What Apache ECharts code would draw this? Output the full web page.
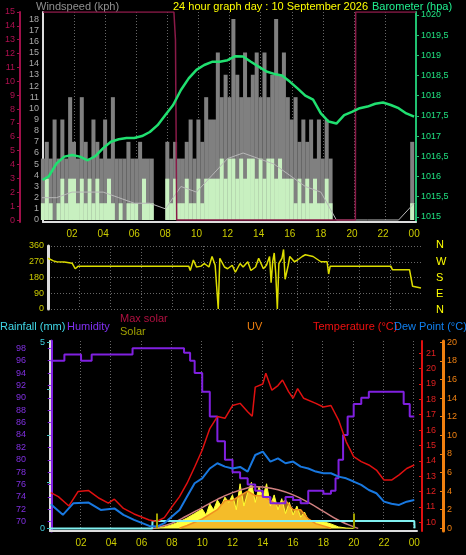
<!DOCTYPE html>
<html><head><meta charset="utf-8">
<script src="https://cdn.jsdelivr.net/npm/echarts@6/dist/echarts.min.js"></script>
<style>html,body{margin:0;padding:0;background:#000}#c{width:466px;height:555px}</style>
</head><body><div id="c"></div>
<script>
// ---- data ----
const hourTicks = [2,4,6,8,10,12,14,16,18,20,22,24];
const baroTimes = [0.1,0.5,1,1.5,2,2.5,3,3.5,4,4.5,5,5.5,6,6.5,7,7.5,8,8.5,9,9.5,10,10.5,11,11.5,12,12.5,13,13.5,14,14.5,15,15.5,16,16.5,17,17.5,18,18.5,19,19.5,20,20.5,21,21.5,22,22.5,23,23.5,24];
const baroValues = [1015.91,1016.0,1016.32,1016.49,1016.53,1016.49,1016.4,1016.5,1016.7,1016.86,1016.92,1016.95,1016.95,1017.0,1017.1,1017.27,1017.52,1017.77,1018.14,1018.43,1018.64,1018.76,1018.84,1018.84,1018.88,1018.98,1018.97,1018.84,1018.72,1018.6,1018.54,1018.5,1018.35,1018.18,1018.0,1017.9,1017.56,1017.36,1017.31,1017.52,1017.6,1017.69,1017.73,1017.8,1017.83,1017.77,1017.69,1017.56,1017.48];
const sunTimes = [0.13,8.55,8.65,8.73,20.22,20.24,24.12];
const sunValues = [15,15,13,0,0,15,15];
const windGust = [5.5,7,5.5,9, 5.5,9,5.5,11, 7,5.5,11,7, 5.5,9,7,5.5, 9,5.5,11,5.5, 5.5,5.5,7,5.5, 5.5,7,5.5,5.5, 5.5,0,0,0,
  7,5.5,7,5.5, 5.5,7,9,5.5, 9,7,11,9, 9,15,11,13, 11,18,13,11, 15,11,13,15, 11,15,11,13, 18,13,15,11, 9,11,7,9, 7,9,5.5,9, 5.5,9,5.5,0,
  0,0,0,0, 0,0,0,0, 0,0,0,0, 0,0,0,0, 0,0,0,7];
const windAvg = [1.5,3.7,1.5,0, 1.5,3.7,1.5,3.7, 3.7,1.5,3.7,1.5, 3.7,1.5,3.7,1.5, 1.5,3.7,1.5,0, 1.5,0,1.5,1.5, 1.5,0,3.7,1.5, 1.5,0,0,0,
  3.7,1.5,3.7,1.5, 1.5,3.7,1.5,1.5, 3.7,1.5,3.7,3.7, 3.7,3.7,5.5,3.7, 5.5,5.5,3.7,5.5, 3.7,5.5,5.5,3.7, 5.5,3.7,5.5,5.5, 3.7,5.5,3.7,3.7, 3.7,1.5,3.7,1.5, 3.7,1.5,3.7,1.5, 1.5,3.7,1.5,0,
  0,0,0,0, 0,0,0,0, 0,0,0,0, 0,0,0,0, 0,0,0,1.5];
const windMeanLine = [2,2,2.5,2.5,2.5,2,1.5,1.5,1,3,2.5,4,5.5,6,5.5,5,4,3,2.5,0,0,0,0,0,1.5];
const dirTimes = [0.45,0.8,1,1.5,2,2.2,2.4,2.6,3.5,9.5,9.6,9.8,10,10.3,10.5,10.8,11,11.2,11.4,11.5,11.8,12,12.3,12.5,12.8,13,13.3,13.5,13.8,14,14.3,14.5,14.7,14.8,14.9,15,15.1,15.2,15.3,15.5,15.6,15.7,15.9,16,16.3,16.5,16.8,17,17.5,18,18.4,18.5,18.6,19,22.5,22.6,23.7,23.9,24.44];
const dirValues = [290,275,270,268,262,230,245,245,245,245,220,280,240,245,260,240,300,250,0,290,240,230,250,210,260,240,270,220,240,290,230,250,300,150,270,320,200,0,260,290,340,170,250,300,270,280,300,310,300,270,270,200,245,245,245,225,225,130,120];
const humTimes = [0,0.9,2,2.7,5.4,8.5,8.8,9.2,9.5,10,10.5,11,11.5,12,12.5,13,13.5,14,14.5,15,15.5,16,16.5,17,17.5,18,18.5,18.8,19,19.3,19.6,20,20.5,21,22,23,23.3,23.7,24];
const humValues = [96,97,96,97,98,98,97.3,96,94,91,87,83,80,78,77,76,75,74,73,73,74,73.5,73,75,75,74.5,75,77,80,84,87,89,90,91,91,91,89,87,87];
const tempTimes = [0,0.5,1.2,1.8,2.5,3.2,3.8,4.2,4.8,5.5,6.5,7,7.5,8,8.5,9,9.5,10,10.5,11,11.5,12,12.5,13,13.3,13.5,14,14.2,14.6,15,15.3,15.7,16,16.3,16.7,17.5,18,18.5,19,19.5,20,20.5,21,21.5,22,22.5,23,23.5,24];
const tempValues = [11.93,11.67,11.06,12.0,12.06,11.56,11.24,11.5,10.9,10.54,10.15,10.05,10.3,11.0,11.67,12.54,13.6,14.7,16.1,16.88,16.77,17.6,17.74,17.2,16.9,18.8,19.0,19.7,18.6,18.9,19.26,18.5,18.07,18.7,18.07,17.74,17.5,17.6,16.65,15.25,14.27,13.95,13.73,13.4,12.75,12.75,13.08,13.5,13.73];
const dewTimes = [0,0.8,1.5,2.5,3.3,4.2,4.8,5.5,6.5,7,7.5,8,8.5,9,9.5,10,10.5,11,11.5,12,12.5,13,13.5,14,14.5,15,15.5,16,16.5,17,17.5,18,18.5,19,19.5,20,20.5,21,21.5,22,22.5,23,23.5,24];
const dewValues = [11.17,10.48,11.24,11.28,10.8,10.9,10.48,10.15,9.76,9.72,9.94,10.37,10.8,11.67,12.54,12.86,13.5,13.84,13.62,13.5,13.6,13.3,14.38,14.6,13.95,14.16,13.84,13.95,13.62,13.5,13.3,13.19,13.19,12.97,12.86,12.65,12.43,12.1,11.89,11.34,11.2,11.13,11.34,11.45];
const rainTimes = [-0.05,6.7,6.72,24.0,24.02];
const rainValues = [0,0,0.2,0.2,0];
const maxSolarTimes = [6.7,7,8,9,10,11,12,13,13.5,14,15,16,17,18,19,20,20.3];
const maxSolarValues = [0,10,70,170,280,390,480,545,560,555,520,450,350,230,110,20,0];
const solarTimes = [6.9,7,7.5,8,8.5,9,9.5,10,10.25,10.5,10.75,11,11.25,11.5,11.75,12,12.25,12.5,12.75,13,13.25,13.5,13.75,14,14.25,14.5,14.75,15,15.25,15.5,15.75,16,16.25,16.5,16.75,17,17.5,18,18.5,19,19.5,20];
const solarValues = [0,5,20,50,90,140,200,260,180,330,250,380,300,420,350,450,250,600,300,480,620,350,560,420,600,300,450,250,400,200,350,180,300,150,220,110,100,90,60,20,5,0];
const uvTimes = [8.5,9,10,11,11.5,12,12.5,13,13.5,14,14.5,15,15.5,16,16.5,17,17.5,18.5];
const uvValues = [0,0.3,1,2,3,3,3.5,4,3.5,3.5,3,2.5,3,2,2,1,0.5,0];

// ---- build ----
const zip = (t, v) => t.map((x, i) => [x, v[i]]);
const gustData = windGust.map((v, i) => [i * 0.25 + 0.125, v]);
const avgData = windAvg.map((v, i) => [i * 0.25 + 0.125, v]);
const meanLineData = windMeanLine.map((v, i) => [i, v]);
const hh = v => { const h = Math.round(v) % 24; return (h < 10 ? '0' : '') + h; };
const font = 'Liberation Sans';
const TF = '11px Liberation Sans';
const dotted = c => ({show: true, lineStyle: {color: c || '#555', type: [1, 2], width: 1}});
const ch = echarts.init(document.getElementById('c'), null, {renderer: 'canvas'});
const timeX = (gi, min, max, showLbl, lblColor) => ({
  type: 'value', gridIndex: gi, min, max,
  axisLine: {show: true, onZero: false, lineStyle: {color: '#ddd', width: 2}},
  axisTick: {show: false},
  splitLine: Object.assign(dotted('#666'), {showMinLine: false, showMaxLine: false}),
  axisLabel: {show: showLbl, customValues: hourTicks, formatter: hh, color: lblColor || '#cccc00', fontSize: 10, fontFamily: font, margin: 7},
  interval: 2
});
const lbl = (c) => ({color: c, fontSize: 9, fontFamily: font});
ch.setOption({
  backgroundColor: '#000',
  animation: false,
  grid: [
    {left: 43, right: 50, top: 12, height: 210},
    {left: 48, right: 45, top: 246, height: 63},
    {left: 50, right: 49, top: 341, height: 190}
  ],
  xAxis: [
    timeX(0, 0.13, 24.12, true),
    Object.assign(timeX(1, 0.45, 24.44, false), {axisLine: {show: false}}),
    timeX(2, -0.05, 24.18, true)
  ],
  yAxis: [
    {type: 'value', gridIndex: 0, min: -0.18, max: 18.63, interval: 1,
      axisLine: {show: true, lineStyle: {color: '#ddd', width: 2}}, axisTick: {show: false},
      axisLabel: Object.assign(lbl('#aaa'), {customValues: [0,1,2,3,4,5,6,7,8,9,10,11,12,13,14,15,16,17,18], margin: 4}),
      splitLine: {show: false}},
    {type: 'value', gridIndex: 0, min: -0.14, max: 15, position: 'left', offset: 23,
      axisLine: {show: true, lineStyle: {color: '#a0104a', width: 2}}, axisTick: {show: true, length: 3, customValues: [0,1,2,3,4,5,6,7,8,9,10,11,12,13,14,15]},
      axisLabel: Object.assign(lbl('#b01050'), {customValues: [0,1,2,3,4,5,6,7,8,9,10,11,12,13,14,15], margin: 5}),
      splitLine: {show: false}},
    {type: 'value', gridIndex: 0, min: 1014.87, max: 1020.074, position: 'right',
      axisLine: {show: true, lineStyle: {color: '#20c070', width: 2}}, axisTick: {show: true, length: 3, customValues: [1015,1015.5,1016,1016.5,1017,1017.5,1018,1018.5,1019,1019.5,1020]},
      axisLabel: Object.assign(lbl('#20e080'), {customValues: [1015,1015.5,1016,1016.5,1017,1017.5,1018,1018.5,1019,1019.5,1020], formatter: v => String(v).replace('.', ','), margin: 5}),
      splitLine: {show: false}},
    {type: 'value', gridIndex: 0, min: -0.18, max: 18.63, show: false, splitLine: dotted('#555')},
    {type: 'value', gridIndex: 1, min: 0, max: 360, interval: 90,
      axisLine: {show: true, lineStyle: {color: '#ddd', width: 3}}, axisTick: {show: false},
      axisLabel: Object.assign(lbl('#cccc00'), {margin: 4}),
      splitLine: dotted('#666')},
    {type: 'value', gridIndex: 2, min: 68.5, max: 99.18, position: 'left', offset: 20,
      axisLine: {show: true, lineStyle: {color: '#8020e0', width: 3}}, axisTick: {show: true, length: 3, customValues: [70,72,74,76,78,80,82,84,86,88,90,92,94,96,98]},
      axisLabel: Object.assign(lbl('#8030e0'), {customValues: [70,72,74,76,78,80,82,84,86,88,90,92,94,96,98], margin: 4}),
      splitLine: {show: false}},
    {type: 'value', gridIndex: 2, min: -0.07, max: 5.035, position: 'left',
      axisLine: {show: true, lineStyle: {color: '#ddd', width: 2}}, axisTick: {show: true, length: 3, lineStyle: {color: '#40c0c0'}, customValues: [0,1.25,2.5,3.75,5]},
      axisLabel: Object.assign(lbl('#40d0e0'), {customValues: [0,5], margin: 5}),
      splitLine: {show: false}},
    {type: 'value', gridIndex: 2, min: 9.43, max: 21.8, position: 'right', offset: 5,
      axisLine: {show: true, lineStyle: {color: '#e01010', width: 2}}, axisTick: {show: true, inside: true, length: 3, customValues: [10,11,12,13,14,15,16,17,18,19,20,21]},
      axisLabel: Object.assign(lbl('#e02020'), {customValues: [10,11,12,13,14,15,16,17,18,19,20,21], margin: 4}),
      splitLine: {show: false}},
    {type: 'value', gridIndex: 2, min: -0.29, max: 20.14, position: 'right', offset: 26,
      axisLine: {show: true, lineStyle: {color: '#f08010', width: 3}}, axisTick: {show: true, inside: true, length: 3, customValues: [0,2,4,6,8,10,12,14,16,18,20]},
      axisLabel: Object.assign(lbl('#f08010'), {customValues: [0,2,4,6,8,10,12,14,16,18,20], margin: 4}),
      splitLine: {show: false}},
    {type: 'value', gridIndex: 2, min: -35, max: 2518, show: false},
    {type: 'value', gridIndex: 2, min: 0, max: 10, interval: 1, show: false, splitLine: dotted('#666')}
  ],
  graphic: [
    {type: 'text', left: 36, top: 1, style: {text: 'Windspeed (kph)', fill: '#909090', font: TF}},
    {type: 'text', left: 173, top: 1, style: {text: '24 hour graph day : 10 September 2026', fill: '#ffff00', font: TF}},
    {type: 'text', left: 372, top: 1, style: {text: 'Barometer (hpa)', fill: '#20f090', font: TF}},
    {type: 'text', left: 436, top: 239, style: {text: 'N', fill: '#ffff00', font: TF}},
    {type: 'text', left: 436, top: 256, style: {text: 'W', fill: '#ffff00', font: TF}},
    {type: 'text', left: 436, top: 272, style: {text: 'S', fill: '#ffff00', font: TF}},
    {type: 'text', left: 436, top: 288, style: {text: 'E', fill: '#ffff00', font: TF}},
    {type: 'text', left: 436, top: 304, style: {text: 'N', fill: '#ffff00', font: TF}},
    {type: 'text', left: 0, top: 321, style: {text: 'Rainfall (mm)', fill: '#40d8e8', font: TF}},
    {type: 'text', left: 67, top: 321, style: {text: 'Humidity', fill: '#8030f0', font: TF}},
    {type: 'text', left: 120, top: 313, style: {text: 'Max solar', fill: '#b01040', font: TF}},
    {type: 'text', left: 120, top: 326, style: {text: 'Solar', fill: '#a0a000', font: TF}},
    {type: 'text', left: 247, top: 321, style: {text: 'UV', fill: '#f08010', font: TF}},
    {type: 'text', left: 313, top: 321, style: {text: 'Temperature (°C)', fill: '#f01010', font: TF}},
    {type: 'text', left: 394, top: 321, style: {text: 'Dew Point (°C)', fill: '#1080f0', font: TF}}
  ],
  series: [
    {type: 'bar', xAxisIndex: 0, yAxisIndex: 0, data: gustData, barWidth: 4, barGap: '-100%', itemStyle: {color: '#808080'}, silent: true},
    {type: 'bar', xAxisIndex: 0, yAxisIndex: 0, data: avgData, barWidth: 4, itemStyle: {color: '#c8f0c0'}, silent: true},
    {type: 'line', xAxisIndex: 0, yAxisIndex: 0, data: meanLineData, showSymbol: false, lineStyle: {color: '#b8b8b8', width: 1}},
    {type: 'line', xAxisIndex: 0, yAxisIndex: 1, data: zip(sunTimes, sunValues), showSymbol: false, lineStyle: {color: '#8a1a48', width: 1.5}},
    {type: 'line', xAxisIndex: 0, yAxisIndex: 2, data: zip(baroTimes, baroValues), showSymbol: false, lineStyle: {color: '#20e070', width: 2.5}},
    {type: 'line', xAxisIndex: 1, yAxisIndex: 4, data: zip(dirTimes, dirValues), showSymbol: false, lineStyle: {color: '#dddd00', width: 1.5}},
    {type: 'line', xAxisIndex: 2, yAxisIndex: 9, data: zip(solarTimes, solarValues), showSymbol: false, lineStyle: {color: '#ffff30', width: 1}, areaStyle: {color: '#ffff40', opacity: 1}},
    {type: 'line', xAxisIndex: 2, yAxisIndex: 8, data: zip(uvTimes, uvValues), showSymbol: false, lineStyle: {color: '#f09020', width: 1.5}, areaStyle: {color: '#f0a020', opacity: 0.7}},
    {type: 'line', xAxisIndex: 2, yAxisIndex: 9, data: zip(maxSolarTimes, maxSolarValues), smooth: true, showSymbol: false, lineStyle: {color: '#d08080', width: 1.5},
      markLine: {silent: true, symbol: 'none', label: {show: false}, lineStyle: {color: '#a0a000', width: 2, type: 'solid'}, data: [
        [{coord: [7, 0]}, {coord: [7, 200]}], [{coord: [20, 0]}, {coord: [20, 200]}]]}},
    {type: 'line', xAxisIndex: 2, yAxisIndex: 6, data: zip(rainTimes, rainValues), showSymbol: false, lineStyle: {color: '#80f0f0', width: 2}},
    {type: 'line', xAxisIndex: 2, yAxisIndex: 5, data: zip(humTimes, humValues), step: 'end', showSymbol: false, lineStyle: {color: '#8020e0', width: 2}},
    {type: 'line', xAxisIndex: 2, yAxisIndex: 7, data: zip(dewTimes, dewValues), showSymbol: false, lineStyle: {color: '#1878e0', width: 2}},
    {type: 'line', xAxisIndex: 2, yAxisIndex: 7, data: zip(tempTimes, tempValues), showSymbol: false, lineStyle: {color: '#e01010', width: 1.5}}
  ]
});
</script></body></html>
